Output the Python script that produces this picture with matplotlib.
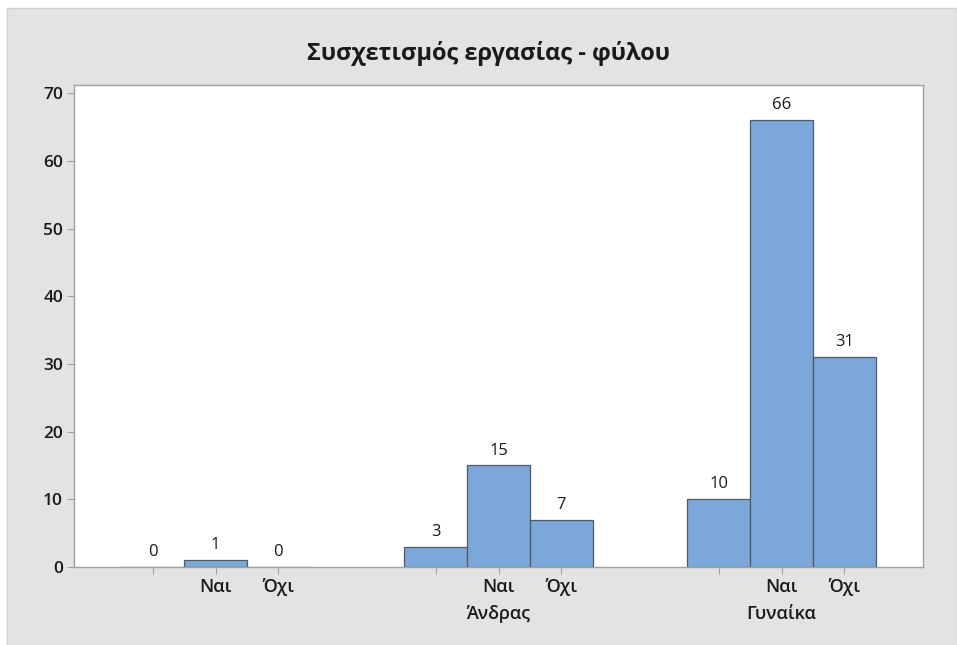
import numpy as np
from matplotlib import pyplot as plt
from matplotlib.patches import Rectangle

# data
groups = ["", "Άνδρας", "Γυναίκα"]
answers = ["", "Ναι", "Όχι"]
counts = [[0, 1, 0],
          [3, 15, 7],
          [10, 66, 31]]

plt.rcParams['font.family'] = ['Open Sans', 'DejaVu Sans']

fig = plt.figure(figsize=(9.57, 6.45), dpi=100)
fig.patch.set_facecolor('white')
# grey panel behind the plot (leaves a small white strip top/left like the original)
fig.patches.append(Rectangle((7 / 957, 0), 1 - 7 / 957, 1 - 8 / 645,
                             transform=fig.transFigure, facecolor='#e3e3e3',
                             edgecolor='#d0d0d0', linewidth=1, zorder=-5))

ax = fig.add_axes([74 / 957, 78 / 645, 849 / 957, 482 / 645])
ax.set_facecolor('white')

gap = 4.5
xs, heights, ticklabels = [], [], []
for g, row in enumerate(counts):
    for k, v in enumerate(row):
        xs.append(g * gap + k - 1)
        heights.append(v)
        ticklabels.append(answers[k])

bars = ax.bar(xs, heights, width=1.0, color='#7ba7d9', edgecolor='#4d5a68',
              linewidth=0.9, zorder=2)
for x, v in zip(xs, heights):
    ax.annotate(str(v), xy=(x, v), xytext=(0, 5), textcoords='offset points',
                ha='center', va='bottom', fontsize=12, color='#1a1a1a')

for g, name in enumerate(groups):
    ax.annotate(name, xy=(g * gap, 0), xycoords=('data', 'axes fraction'),
                xytext=(0, -34), textcoords='offset points', ha='center',
                va='center', fontsize=13, fontweight='semibold', color='#1a1a1a')

ax.set_xlim(-2.25, 2 * gap + 2.25)
ax.set_ylim(0, 71.2)
ax.set_xticks(xs)
ax.set_xticklabels(ticklabels)
ax.set_yticks(np.arange(0, 71, 10))

for lab in ax.get_xticklabels():
    lab.set_fontsize(13)
for lab in ax.get_yticklabels():
    lab.set_fontsize(12.5)
for lab in ax.get_xticklabels() + ax.get_yticklabels():
    lab.set_fontweight('semibold')
    lab.set_color('#1a1a1a')
ax.tick_params(axis='both', direction='out', length=5, width=0.8, color='#a0a0a0')
ax.tick_params(axis='x', pad=3)
ax.tick_params(axis='y', pad=3)
for s in ax.spines.values():
    s.set_color('#a0a0a0')
    s.set_linewidth(1)

fig.text(488 / 957, 1 - 54 / 645, "Συσχετισμός εργασίας - φύλου", ha='center',
         va='center', fontsize=17, fontweight='bold', color='#1a1a1a')

fig.savefig('out.png', dpi=100, facecolor=fig.get_facecolor())
